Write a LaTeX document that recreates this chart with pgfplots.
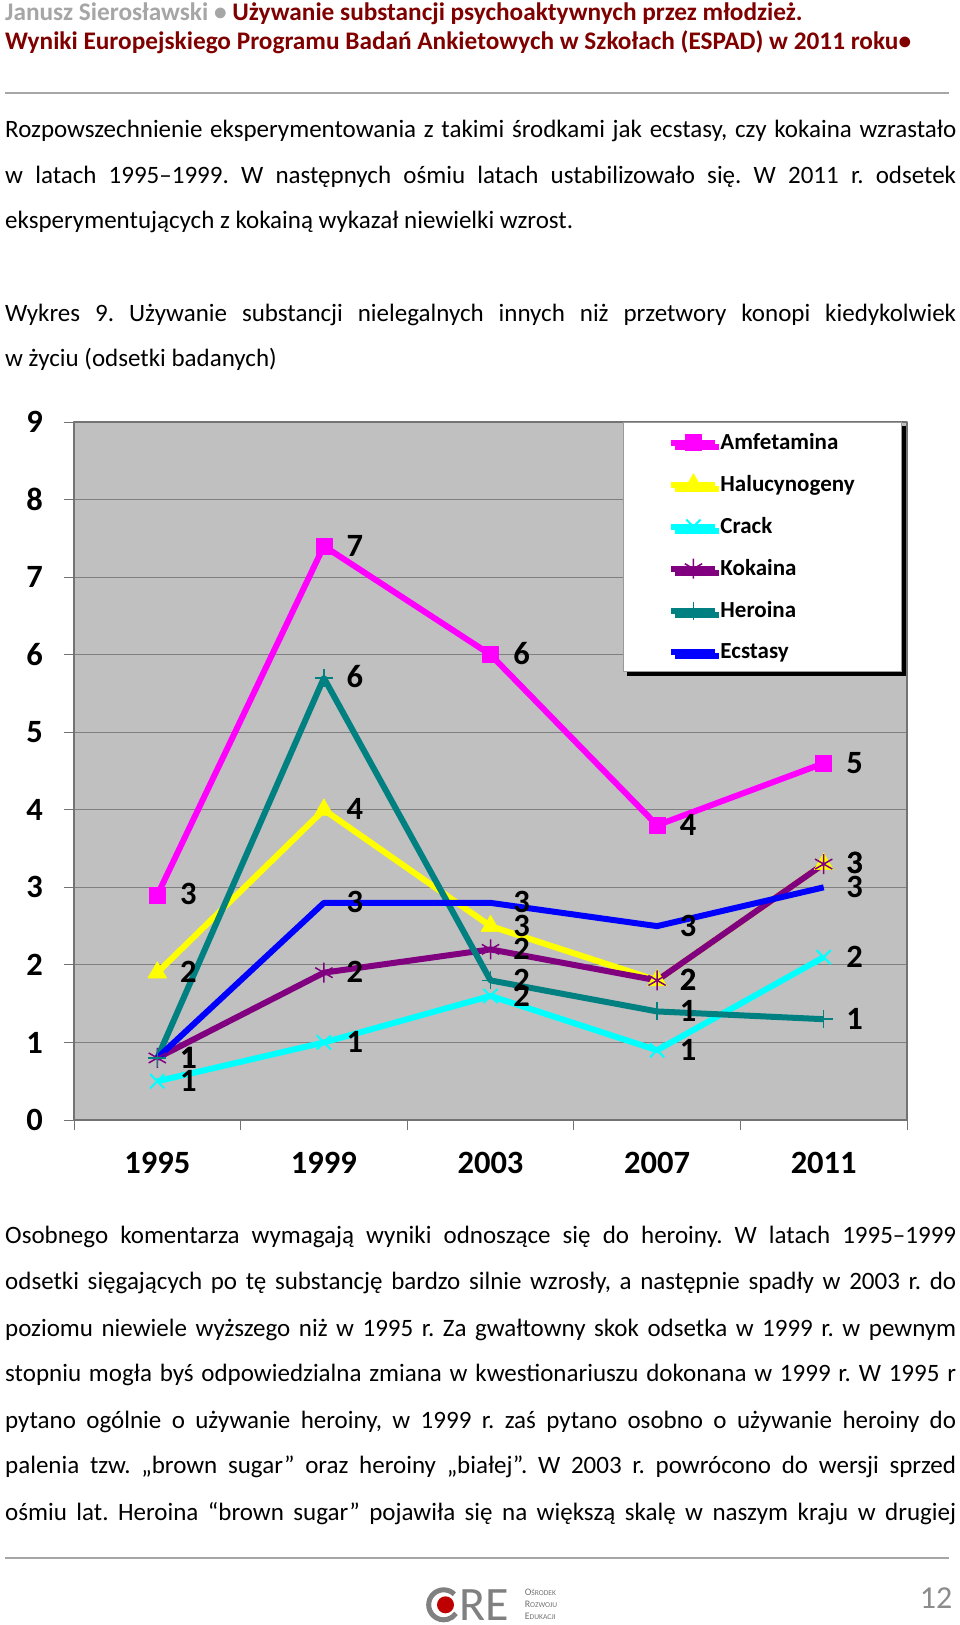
\documentclass[border=0pt]{standalone}
\usepackage{fontspec}
\setmainfont{Carlito}
\usepackage{pgfplots}
\pgfplotsset{compat=1.18}
\usetikzlibrary{shadows}
\definecolor{hdrred}{RGB}{128,0,0}
\definecolor{hdrgray}{RGB}{166,166,166}
\definecolor{plotgray}{RGB}{192,192,192}
\definecolor{amf}{RGB}{255,0,255}
\definecolor{hal}{RGB}{255,255,0}
\definecolor{crk}{RGB}{0,255,255}
\definecolor{kok}{RGB}{128,0,128}
\definecolor{her}{RGB}{0,128,128}
\definecolor{ecs}{RGB}{0,0,255}
\newcommand\bodyfont{\fontsize{25}{30}\selectfont}
\newcommand\hdrfont{\fontsize{25.3}{30}\selectfont\bfseries}
\newcommand\chartfont{\fontsize{32.5}{36}\selectfont\bfseries}
\newcommand\legfont{\fontsize{23}{26}\selectfont\bfseries}
\newcommand\jline[1]{\makebox[951pt][s]{#1}}
\pgfplotsset{lbl/.style={draw=none, mark=none, forget plot, nodes near coords,
  point meta=explicit symbolic, nodes near coords align=horizontal,
  every node near coord/.append style={font=\chartfont, inner sep=0pt, xshift=31pt, yshift=-10.3pt, text=black}}}
\frenchspacing
\begin{document}
\begin{tikzpicture}
\fill[white] (0pt,0pt) rectangle (960pt,-1625pt);
\begin{scope}[x=1pt,y=1pt]
% header
\node[anchor=base west, inner sep=0pt, font=\hdrfont] at (5,-20.5) {\textcolor{hdrgray}{Janusz Sierosławski •} \textcolor{hdrred}{Używanie substancji psychoaktywnych przez młodzież.}};
\node[anchor=base west, inner sep=0pt, font=\hdrfont, text=hdrred] at (5,-49.5) {Wyniki Europejskiego Programu Badań Ankietowych w Szkołach (ESPAD) w 2011 roku•};
\draw[black!35, line width=2pt] (5,-93.3) -- (949,-93.3);
% paragraph 1
\node[anchor=base west, inner sep=0pt, font=\bodyfont] at (5,-137.6) {\jline{Rozpowszechnienie eksperymentowania z takimi środkami jak ecstasy, czy kokaina wzrastało}};
\node[anchor=base west, inner sep=0pt, font=\bodyfont] at (5,-183.2) {\jline{w latach 1995–1999. W następnych ośmiu latach ustabilizowało się. W 2011 r. odsetek}};
\node[anchor=base west, inner sep=0pt, font=\bodyfont] at (5,-228.9) {eksperymentujących z kokainą wykazał niewielki wzrost.};
% caption
\node[anchor=base west, inner sep=0pt, font=\bodyfont] at (5,-321.1) {\jline{Wykres 9. Używanie substancji nielegalnych innych niż przetwory konopi kiedykolwiek}};
\node[anchor=base west, inner sep=0pt, font=\bodyfont] at (5,-366.7) {w życiu (odsetki badanych)};
% paragraph 3
\node[anchor=base west, inner sep=0pt, font=\bodyfont] at (5,-1243.8) {\jline{Osobnego komentarza wymagają wyniki odnoszące się do heroiny. W latach 1995–1999}};
\node[anchor=base west, inner sep=0pt, font=\bodyfont] at (5,-1289.4) {\jline{odsetki sięgających po tę substancję bardzo silnie wzrosły, a następnie spadły w 2003 r. do}};
\node[anchor=base west, inner sep=0pt, font=\bodyfont] at (5,-1336) {\jline{poziomu niewiele wyższego niż w 1995 r. Za gwałtowny skok odsetka w 1999 r. w pewnym}};
\node[anchor=base west, inner sep=0pt, font=\bodyfont] at (5,-1381.7) {\jline{stopniu mogła byś odpowiedzialna zmiana w kwestionariuszu dokonana w 1999 r. W 1995 r}};
\node[anchor=base west, inner sep=0pt, font=\bodyfont] at (5,-1428.3) {\jline{pytano ogólnie o używanie heroiny, w 1999 r. zaś pytano osobno o używanie heroiny do}};
\node[anchor=base west, inner sep=0pt, font=\bodyfont] at (5,-1473.9) {\jline{palenia tzw. „brown sugar” oraz heroiny „białej”. W 2003 r. powrócono do wersji sprzed}};
\node[anchor=base west, inner sep=0pt, font=\bodyfont] at (5,-1520.6) {\jline{ośmiu lat. Heroina “brown sugar” pojawiła się na większą skalę w naszym kraju w drugiej}};
% footer
\draw[black!35, line width=2pt] (5,-1558) -- (949,-1558);
\draw[black!50, line width=5pt] (443.7,-1604.8) ++(45:15) arc[start angle=45, end angle=325, radius=15];
\fill[red!75!black] (445.5,-1604.8) circle (8.5);
\node[anchor=base west, inner sep=0pt, font=\fontsize{48}{48}\selectfont, text=black!50] at (459,-1620) {RE};
\node[anchor=base west, inner sep=0pt, text=black!55] at (524.6,-1595) {{\fontsize{10}{10}\selectfont O}{\fontsize{7.5}{7.5}\selectfont ŚRODEK}};
\node[anchor=base west, inner sep=0pt, text=black!55] at (524.6,-1607.5) {{\fontsize{10}{10}\selectfont R}{\fontsize{7.5}{7.5}\selectfont OZWOJU}};
\node[anchor=base west, inner sep=0pt, text=black!55] at (524.6,-1619) {{\fontsize{10}{10}\selectfont E}{\fontsize{7.5}{7.5}\selectfont DUKACJI}};
\node[anchor=base, inner sep=0pt, font=\fontsize{32}{32}\selectfont, text=black!45] at (936,-1608) {12};
\end{scope}
% chart
\begin{axis}[
 at={(74pt,-1120pt)}, anchor=south west,
 width=833pt, height=698pt, scale only axis,
 xmin=-0.5, xmax=4.5, ymin=0, ymax=9,
 xtick={0,1,2,3,4}, xticklabels={1995,1999,2003,2007,2011},
 minor xtick={-0.5,0.5,1.5,2.5,3.5,4.5},
 ytick={0,1,2,3,4,5,6,7,8,9}, yticklabels={0,1,2,3,4,5,6,7,8,9},
 ymajorgrids, major grid style={draw=black!50, line width=1pt},
 axis background/.style={fill=plotgray},
 axis line style={draw=black!55, line width=1.2pt},
 tick align=outside, xtick pos=left, ytick pos=left,
 major tick length=10pt, minor tick length=10pt,
 tick style={draw=black!55, line width=1pt},
 major x tick style={draw=none},
 tick label style={font=\chartfont, inner sep=0pt},
 xticklabel style={anchor=north, yshift=-21.7pt},
 yticklabel style={anchor=east, xshift=-21pt},
 clip=false,
 line join=round,
 legend cell align=left,
 legend style={at={(0.994,1)}, anchor=north east, draw=black!40, line width=0.8pt,
   fill=white, font=\legfont, inner xsep=45pt, inner ysep=9pt, row sep=19.7pt,
   drop shadow={shadow xshift=4pt, shadow yshift=-4pt, fill=black, opacity=1},
   nodes={inner sep=2pt, text depth=0.22em}},
 legend image code/.code={\draw[mark repeat=2,mark phase=2,#1] plot coordinates {(0pt,0pt) (22pt,0pt) (44pt,0pt)};},
]
\addplot[amf, line width=6pt, mark=square*, mark size=8pt, mark options={solid, line width=0.5pt}]
  coordinates {(0,2.9) (1,7.4) (2,6.0) (3,3.8) (4,4.6)};
\addlegendentry{Amfetamina}
\addplot[hal, line width=6pt, mark=triangle*, mark size=11pt, mark options={solid, line width=0.5pt}]
  coordinates {(0,1.9) (1,4.0) (2,2.5) (3,1.8) (4,3.3)};
\addlegendentry{Halucynogeny}
\addplot[crk, line width=6pt, mark=x, mark size=10pt, mark options={solid, line width=2pt}]
  coordinates {(0,0.5) (1,1.0) (2,1.6) (3,0.9) (4,2.1)};
\addlegendentry{Crack}
\addplot[kok, line width=6pt, mark=asterisk, mark size=10pt, mark options={solid, line width=1.5pt}]
  coordinates {(0,0.8) (1,1.9) (2,2.2) (3,1.8) (4,3.3)};
\addlegendentry{Kokaina}
\addplot[her, line width=6pt, mark=+, mark size=9pt, mark options={solid, line width=1.5pt}]
  coordinates {(0,0.8) (1,5.7) (2,1.8) (3,1.4) (4,1.3)};
\addlegendentry{Heroina}
\addplot[ecs, line width=6pt, mark=none]
  coordinates {(0,0.8) (1,2.8) (2,2.8) (3,2.5) (4,3.0)};
\addlegendentry{Ecstasy}
% data labels on top
\addplot[lbl] coordinates {(0,2.9)[3] (1,7.4)[7] (2,6.0)[6] (3,3.8)[4] (4,4.6)[5]};
\addplot[lbl] coordinates {(0,1.9)[2] (1,4.0)[4] (2,2.5)[3] (3,1.8)[2] (4,3.3)[3]};
\addplot[lbl] coordinates {(0,0.5)[1] (1,1.0)[1] (2,1.6)[2] (3,0.9)[1] (4,2.1)[2]};
\addplot[lbl] coordinates {(0,0.8)[1] (1,1.9)[2] (2,2.2)[2] (3,1.8)[2] (4,3.3)[3]};
\addplot[lbl] coordinates {(0,0.8)[1] (1,5.7)[6] (2,1.8)[2] (3,1.4)[1] (4,1.3)[1]};
\addplot[lbl] coordinates {(0,0.8)[1] (1,2.8)[3] (2,2.8)[3] (3,2.5)[3] (4,3.0)[3]};
\end{axis}
\end{tikzpicture}
\end{document}
